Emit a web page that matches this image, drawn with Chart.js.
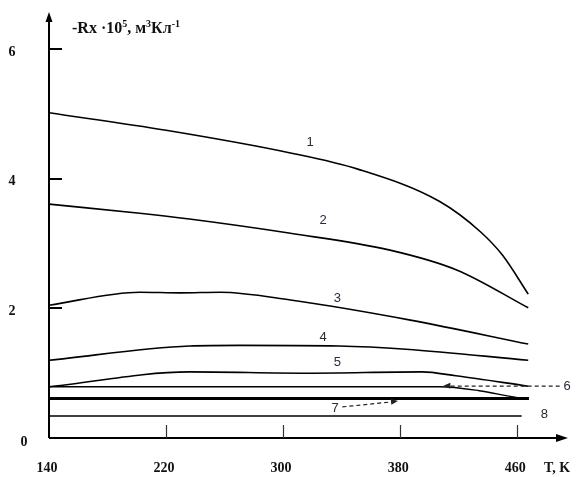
<!DOCTYPE html>
<html>
<head>
<meta charset="utf-8">
<script src="https://cdn.jsdelivr.net/npm/chart.js@4"></script>
<style>
html,body{margin:0;padding:0;background:#fff;}
canvas{display:block;}
</style>
</head>
<body>
<canvas id="c" width="576" height="477"></canvas>
<script>
// ---- data (T in K, -Rx·10^5 in m^3/C) ----
const T1 = [140, 220, 305, 351, 407, 435, 450, 467.5];
const R1 = [5.02, 4.75, 4.40, 4.15, 3.65, 3.18, 2.82, 2.22];
const T2 = [140, 202, 236, 305, 373, 419, 467.5];
const R2 = [3.61, 3.47, 3.38, 3.16, 2.90, 2.59, 2.01];
const T3 = [140, 202, 230, 257, 305, 387, 467.5];
const R3 = [2.05, 2.25, 2.24, 2.25, 2.13, 1.82, 1.45];
const T4 = [140, 236, 270, 338, 384, 467.5];
const R4 = [1.20, 1.42, 1.43, 1.42, 1.37, 1.20];
const T5 = [140, 236, 316, 395, 418, 467.5];
const R5 = [0.79, 1.02, 1.00, 1.02, 0.96, 0.80];
const T6 = [140, 407, 434, 461, 467];
const R6 = [0.79, 0.79, 0.73, 0.62, 0.61];
const T7 = [140, 468];
const R7 = [0.61, 0.61];
const T8 = [140, 463];
const R8 = [0.34, 0.34];

const xTicks = [140, 220, 300, 380, 460];
const yTicks = [0, 2, 4, 6];
const curveNames = ['1', '2', '3', '4', '5', '6', '7', '8'];
// label anchors in data coordinates [T, value]
const curveLabelT = [318.5, 327.3, 337, 327.3, 337, 494, 335.6, 478.5];
const curveLabelV = [4.57, 3.36, 2.16, 1.56, 1.17, 0.80, 0.45, 0.37];

const series = [[T1,R1],[T2,R2],[T3,R3],[T4,R4],[T5,R5],[T6,R6],[T7,R7],[T8,R8]];
const widths = [1.6,1.6,1.6,1.6,1.6,1.4,3,1.6];

const datasets = series.map((s, i) => ({
  label: curveNames[i],
  data: s[0].map((t, k) => ({x: t, y: s[1][k]})),
  borderColor: '#000',
  borderWidth: widths[i],
  pointRadius: 0,
  fill: false,
  cubicInterpolationMode: 'monotone'
}));

function drawRuns(ctx, x, y, runs, size) {
  let cx = x;
  runs.forEach(r => {
    const sup = r[1];
    const fs = sup ? Math.round(size * 0.62) : size;
    ctx.font = 'bold ' + fs + 'px "Liberation Serif", "DejaVu Serif", serif';
    ctx.fillText(r[0], cx, sup ? y - size * 0.38 : y);
    cx += ctx.measureText(r[0]).width;
  });
}

function arrowHead(ctx, x1, y1, x2, y2, len, half) {
  const a = Math.atan2(y2 - y1, x2 - x1);
  ctx.beginPath();
  ctx.moveTo(x2, y2);
  ctx.lineTo(x2 - len * Math.cos(a) + half * Math.sin(a), y2 - len * Math.sin(a) - half * Math.cos(a));
  ctx.lineTo(x2 - len * Math.cos(a) - half * Math.sin(a), y2 - len * Math.sin(a) + half * Math.cos(a));
  ctx.closePath();
  ctx.fill();
}

const axesPlugin = {
  id: 'axesPlugin',
  afterDraw(chart) {
    const ctx = chart.ctx;
    const xs = chart.scales.x, ys = chart.scales.y;
    const ca = chart.chartArea;
    const x0 = xs.getPixelForValue(140), y0 = ys.getPixelForValue(0);
    ctx.save();
    ctx.strokeStyle = '#000';
    ctx.fillStyle = '#000';
    // axes
    ctx.lineWidth = 2;
    ctx.beginPath();
    ctx.moveTo(x0, y0); ctx.lineTo(x0, ca.top + 6);
    ctx.moveTo(x0, y0); ctx.lineTo(ca.right - 6, y0);
    ctx.stroke();
    arrowHead(ctx, x0, y0, x0, ca.top - 1, 10, 3.5);
    arrowHead(ctx, x0, y0, ca.right + 1, y0, 12, 4);
    // y ticks
    ctx.lineWidth = 2;
    yTicks.forEach(v => {
      if (v === 0) return;
      const py = Math.round(ys.getPixelForValue(v));
      ctx.beginPath(); ctx.moveTo(x0, py); ctx.lineTo(x0 + 13, py); ctx.stroke();
    });
    // x ticks (inward)
    ctx.lineWidth = 1.2;
    ctx.strokeStyle = '#333';
    xTicks.forEach(t => {
      if (t === 140) return;
      const px = Math.round(xs.getPixelForValue(t)) + 0.5;
      ctx.beginPath(); ctx.moveTo(px, y0); ctx.lineTo(px, y0 - 13); ctx.stroke();
    });
    // tick labels
    ctx.fillStyle = '#111';
    ctx.font = 'bold 14px "Liberation Serif", "DejaVu Serif", serif';
    ctx.textAlign = 'center';
    ctx.textBaseline = 'middle';
    xTicks.forEach(t => {
      ctx.fillText(String(t), xs.getPixelForValue(t) - 2, y0 + 30);
    });
    yTicks.forEach(v => {
      if (v === 0) { ctx.fillText('0', x0 - 25, ys.getPixelForValue(0) + 4); return; }
      ctx.fillText(String(v), 12, ys.getPixelForValue(v) + 3);
    });
    ctx.textAlign = 'left';
    ctx.fillText('T, K', 544, y0 + 30);
    // y title
    ctx.textBaseline = 'alphabetic';
    drawRuns(ctx, 72, 33, [['-Rx ·10', 0], ['5', 1], [', м', 0], ['3', 1], ['Кл', 0], ['-1', 1]], 16);
    // curve labels
    ctx.font = '13px "Liberation Sans", "DejaVu Sans", sans-serif';
    ctx.fillStyle = '#2a2a3a';
    ctx.textAlign = 'center';
    ctx.textBaseline = 'middle';
    curveNames.forEach((n, i) => {
      ctx.fillText(n, xs.getPixelForValue(curveLabelT[i]), ys.getPixelForValue(curveLabelV[i]));
    });
    // dashed pointers for 6 and 7
    ctx.strokeStyle = '#222';
    ctx.fillStyle = '#222';
    ctx.lineWidth = 1.2;
    ctx.setLineDash([4, 3]);
    const a6x1 = xs.getPixelForValue(489), a6y = ys.getPixelForValue(0.80), a6x2 = xs.getPixelForValue(409.5);
    ctx.beginPath(); ctx.moveTo(a6x1, a6y); ctx.lineTo(a6x2 + 4, a6y); ctx.stroke();
    const a7x1 = xs.getPixelForValue(340.5), a7y1 = ys.getPixelForValue(0.48);
    const a7x2 = xs.getPixelForValue(378.5), a7y2 = ys.getPixelForValue(0.57);
    ctx.beginPath(); ctx.moveTo(a7x1, a7y1); ctx.lineTo(a7x2 - 3, a7y2 + 0.5); ctx.stroke();
    ctx.setLineDash([]);
    arrowHead(ctx, a6x1, a6y, a6x2, a6y - 0.5, 7, 3);
    arrowHead(ctx, a7x1, a7y1, a7x2, a7y2, 7, 3);
    ctx.restore();
  }
};

new Chart(document.getElementById('c'), {
  type: 'line',
  data: { datasets },
  options: {
    responsive: false,
    animation: false,
    devicePixelRatio: 1,
    layout: { padding: { left: 49, right: 9, top: 13, bottom: 39 } },
    plugins: { legend: { display: false }, tooltip: { enabled: false } },
    scales: {
      x: { type: 'linear', min: 140, max: 494, display: false },
      y: { type: 'linear', min: 0, max: 6.56, display: false }
    }
  },
  plugins: [axesPlugin]
});
</script>
</body>
</html>
